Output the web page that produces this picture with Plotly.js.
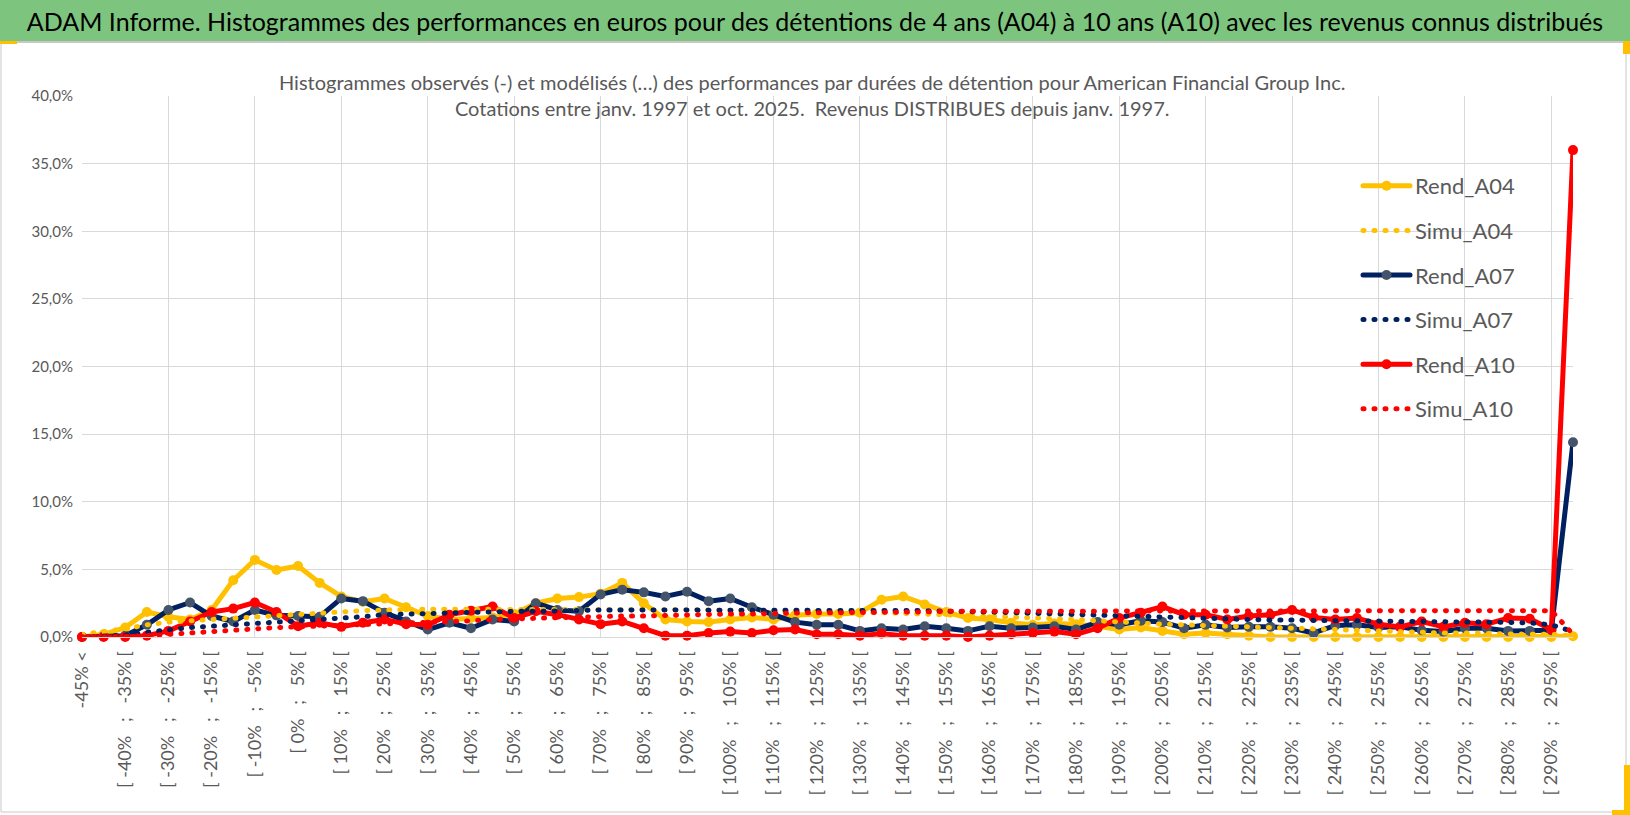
<!DOCTYPE html>
<html>
<head>
<meta charset="utf-8">
<script src="https://cdn.plot.ly/plotly-3.0.1.min.js"></script>
<style>
  html, body { margin: 0; padding: 0; background: #fff; }
  #chart { width: 1630px; height: 815px; }
  .js-line { stroke-linecap: round; stroke-linejoin: round; }
</style>
</head>
<body>
<div id="chart"></div>
<script>
  const categories = [
    "-45% <", "[ -45% ; -40% [", "[ -40% ; -35% [", "[ -35% ; -30% [", "[ -30% ; -25% [",
    "[ -25% ; -20% [", "[ -20% ; -15% [", "[ -15% ; -10% [", "[ -10% ; -5% [", "[ -5% ; 0% [",
    "[ 0% ; 5% [", "[ 5% ; 10% [", "[ 10% ; 15% [", "[ 15% ; 20% [", "[ 20% ; 25% [",
    "[ 25% ; 30% [", "[ 30% ; 35% [", "[ 35% ; 40% [", "[ 40% ; 45% [", "[ 45% ; 50% [",
    "[ 50% ; 55% [", "[ 55% ; 60% [", "[ 60% ; 65% [", "[ 65% ; 70% [", "[ 70% ; 75% [",
    "[ 75% ; 80% [", "[ 80% ; 85% [", "[ 85% ; 90% [", "[ 90% ; 95% [", "[ 95% ; 100% [",
    "[ 100% ; 105% [", "[ 105% ; 110% [", "[ 110% ; 115% [", "[ 115% ; 120% [", "[ 120% ; 125% [",
    "[ 125% ; 130% [", "[ 130% ; 135% [", "[ 135% ; 140% [", "[ 140% ; 145% [", "[ 145% ; 150% [",
    "[ 150% ; 155% [", "[ 155% ; 160% [", "[ 160% ; 165% [", "[ 165% ; 170% [", "[ 170% ; 175% [",
    "[ 175% ; 180% [", "[ 180% ; 185% [", "[ 185% ; 190% [", "[ 190% ; 195% [", "[ 195% ; 200% [",
    "[ 200% ; 205% [", "[ 205% ; 210% [", "[ 210% ; 215% [", "[ 215% ; 220% [", "[ 220% ; 225% [",
    "[ 225% ; 230% [", "[ 230% ; 235% [", "[ 235% ; 240% [", "[ 240% ; 245% [", "[ 245% ; 250% [",
    "[ 250% ; 255% [", "[ 255% ; 260% [", "[ 260% ; 265% [", "[ 265% ; 270% [", "[ 270% ; 275% [",
    "[ 275% ; 280% [", "[ 280% ; 285% [", "[ 285% ; 290% [", "[ 290% ; 295% [", "> 295%"
  ];

  // observed histograms (%)
  const rendA04 = [
    0.0, 0.2, 0.7, 1.85, 1.5, 1.3, 2.0, 4.2, 5.7, 4.95,
    5.25, 4.0, 3.0, 2.6, 2.85, 2.2, 1.55, 1.3, 1.4, 1.45,
    1.7, 2.5, 2.85, 2.95, 3.2, 4.0, 2.5, 1.3, 1.15, 1.1,
    1.3, 1.45, 1.3, 1.6, 1.7, 1.7, 1.8, 2.75, 3.0, 2.4,
    1.85, 1.4, 1.3, 1.05, 0.9, 1.0, 0.95, 0.8, 0.55, 0.7,
    0.45, 0.2, 0.3, 0.2, 0.1, 0.0, 0.0, 0.0, 0.0, 0.0,
    0.0, 0.0, 0.0, 0.0, 0.0, 0.0, 0.0, 0.0, 0.0, 0.05
  ];
  const rendA07 = [
    0.0, 0.05, 0.1, 0.9, 2.0, 2.55, 1.55, 1.15, 2.0, 1.6,
    1.55, 1.5, 2.85, 2.65, 1.8, 1.15, 0.55, 1.05, 0.65, 1.3,
    1.15, 2.5, 2.0, 1.9, 3.15, 3.5, 3.3, 3.0, 3.35, 2.65,
    2.85, 2.2, 1.65, 1.1, 0.9, 0.9, 0.45, 0.65, 0.55, 0.8,
    0.65, 0.45, 0.8, 0.65, 0.7, 0.8, 0.55, 1.1, 0.9, 1.2,
    1.1, 0.65, 0.9, 0.7, 0.75, 0.75, 0.65, 0.3, 0.85, 0.9,
    0.7, 0.75, 0.5, 0.4, 0.65, 0.65, 0.45, 0.45, 0.5, 14.4
  ];
  const rendA10 = [
    0.0, 0.0, 0.0, 0.1, 0.45, 1.15, 1.85, 2.1, 2.55, 1.85,
    0.8, 1.05, 0.75, 1.05, 1.3, 0.95, 0.9, 1.65, 1.95, 2.25,
    1.4, 1.9, 1.65, 1.3, 0.95, 1.15, 0.65, 0.1, 0.1, 0.3,
    0.4, 0.3, 0.5, 0.55, 0.2, 0.2, 0.1, 0.25, 0.1, 0.1,
    0.1, 0.0, 0.1, 0.2, 0.3, 0.4, 0.2, 0.65, 1.4, 1.8,
    2.25, 1.65, 1.65, 1.3, 1.55, 1.65, 2.0, 1.45, 1.3, 1.4,
    0.95, 0.75, 1.15, 0.75, 1.05, 0.95, 1.4, 1.35, 0.55, 36.0
  ];

  // modelled histograms (%)
  const simuA04 = [
    0.2, 0.4, 0.6, 0.9, 1.1, 1.2, 1.3, 1.4, 1.5, 1.6,
    1.7, 1.8, 1.9, 1.95, 2.0, 2.05, 2.05, 2.05, 2.05, 2.05,
    2.05, 2.05, 2.05, 2.05, 2.05, 2.05, 2.05, 2.0, 2.0, 2.0,
    1.95, 1.95, 1.9, 1.9, 1.85, 1.85, 1.8, 1.8, 1.75, 1.7,
    1.65, 1.6, 1.5, 1.45, 1.4, 1.35, 1.3, 1.2, 1.1, 1.0,
    0.95, 0.9, 0.85, 0.8, 0.7, 0.65, 0.6, 0.55, 0.5, 0.45,
    0.4, 0.4, 0.35, 0.3, 0.3, 0.25, 0.25, 0.2, 0.2, 0.1
  ];
  const simuA07 = [
    0.0, 0.05, 0.15, 0.35, 0.55, 0.7, 0.8, 0.9, 1.0, 1.1,
    1.2, 1.3, 1.35, 1.5, 1.65, 1.7, 1.75, 1.8, 1.85, 1.85,
    1.9, 1.9, 1.95, 1.95, 2.0, 2.0, 2.0, 2.0, 2.0, 2.0,
    2.0, 2.0, 2.0, 2.0, 2.0, 2.0, 2.0, 1.95, 1.95, 1.95,
    1.9, 1.9, 1.85, 1.8, 1.75, 1.7, 1.65, 1.6, 1.55, 1.5,
    1.45, 1.4, 1.35, 1.3, 1.3, 1.25, 1.25, 1.2, 1.2, 1.2,
    1.15, 1.15, 1.15, 1.1, 1.1, 1.1, 1.1, 1.05, 0.9, 0.4
  ];
  const simuA10 = [
    0.0, 0.0, 0.05, 0.1, 0.2, 0.35, 0.45, 0.55, 0.65, 0.7,
    0.75, 0.8, 0.85, 0.95, 1.0, 1.05, 1.1, 1.15, 1.2, 1.3,
    1.35, 1.4, 1.45, 1.45, 1.5, 1.55, 1.55, 1.6, 1.6, 1.65,
    1.7, 1.7, 1.75, 1.75, 1.8, 1.8, 1.8, 1.85, 1.85, 1.85,
    1.9, 1.9, 1.9, 1.9, 1.95, 1.95, 1.95, 1.95, 1.95, 1.95,
    1.95, 1.95, 1.95, 1.95, 1.95, 1.95, 1.95, 1.95, 1.95, 1.95,
    1.95, 1.95, 1.95, 1.95, 1.95, 1.95, 1.95, 1.95, 1.95, 0.2
  ];

  const W = 1630, H = 815;
  const plotL = 82, plotR = 1573, plotT = 96, plotB = 637;
  const px = (x) => (x - plotL) / (plotR - plotL);
  const py = (y) => (plotB - y) / (plotB - plotT);

  const fontFamily = "Lato, 'Open Sans', sans-serif";
  const gray = "#595959";
  const gridColor = "#d9d9d9";

  // every 2nd category is labelled, the ";" is set apart like in the workbook
  const labelVals = categories.filter((_, i) => i % 2 === 0);
  const nb = "\u00a0";
  const labelText = labelVals.map((c) => c.replace(" ; ", nb.repeat(3) + ";" + nb.repeat(3)));

  const rend = (name, y, lineColor, markerColor, group) => ({
    x: categories, y, name, legendgroup: group,
    type: "scatter", mode: "lines+markers", cliponaxis: false,
    line: { color: lineColor, width: 5 },
    marker: { color: markerColor, size: 10 },
  });
  const simu = (name, y, color, group) => ({
    x: categories, y, name, legendgroup: group, xaxis: "x2",
    type: "scatter", mode: "lines", cliponaxis: false,
    line: { color, width: 5, dash: "1px,10px" },
  });

  const traces = [
    rend("Rend_A04", rendA04, "#FFC000", "#FFC000", "g1"),
    simu("Simu_A04", simuA04, "#FFC000", "g2"),
    rend("Rend_A07", rendA07, "#002060", "#44546A", "g3"),
    simu("Simu_A07", simuA07, "#002060", "g4"),
    rend("Rend_A10", rendA10, "#FF0000", "#FF0000", "g5"),
    simu("Simu_A10", simuA10, "#FF0000", "g6"),
  ];

  const yellowMark = (x0, x1, y0, y1) => ({
    type: "rect", xref: "paper", yref: "paper", layer: "above",
    x0: px(x0), x1: px(x1), y0: py(y1), y1: py(y0),
    fillcolor: "#FFC000", line: { width: 0 },
  });

  const layout = {
    width: W, height: H,
    margin: { l: plotL, r: W - plotR, t: plotT, b: H - plotB, pad: 0 },
    paper_bgcolor: "#ffffff",
    plot_bgcolor: "#ffffff",
    separators: ", ",
    font: { family: fontFamily, color: gray },
    showlegend: true,
    title: {
      text: "ADAM Informe. Histogrammes des performances en euros pour des détentions de 4 ans (A04) à 10 ans (A10) avec les revenus connus distribués",
      font: { family: fontFamily, size: 25, color: "#000000" },
      xref: "container", yref: "container",
      x: 0.5, xanchor: "center", y: 1 - 22 / H, yanchor: "middle",
    },
    xaxis: {
      type: "category", categoryorder: "array", categoryarray: categories,
      range: [0, categories.length - 1],
      tickmode: "array", tickvals: labelVals, ticktext: labelText,
      tickangle: -90, ticks: "", showgrid: false,
      showline: true, linecolor: gridColor, linewidth: 1.3,
      tickfont: { family: fontFamily, size: 18, color: gray },
      ticklabelstandoff: 6, automargin: false, fixedrange: true,
    },
    xaxis2: {
      type: "category", categoryorder: "array", categoryarray: categories,
      overlaying: "x", side: "bottom",
      range: [0, categories.length - 1],
      tickmode: "array", tickvals: categories.filter((_, i) => i % 4 === 0),
      showticklabels: false, ticks: "",
      showgrid: true, gridcolor: gridColor, gridwidth: 1.3, fixedrange: true,
    },
    yaxis: {
      range: [0, 40], dtick: 5, tickformat: ".1f", ticksuffix: "%",
      showgrid: true, gridcolor: gridColor, gridwidth: 1.3, zeroline: false,
      ticks: "", tickfont: { family: fontFamily, size: 15, color: gray },
      ticklabelstandoff: 8, automargin: false, fixedrange: true,
    },
    legend: {
      xref: "paper", yref: "paper",
      x: px(1358), y: py(165), xanchor: "left", yanchor: "top",
      bgcolor: "rgba(0,0,0,0)", borderwidth: 0,
      traceorder: "grouped", tracegroupgap: 13, itemwidth: 47,
      font: { family: fontFamily, size: 22, color: gray },
    },
    annotations: [{
      text: "Histogrammes observés (-) et modélisés (…) des performances par durées de détention pour American Financial Group Inc.<br>Cotations entre janv. 1997 et oct. 2025.  Revenus DISTRIBUES depuis janv. 1997.",
      xref: "paper", yref: "paper", x: px(812), y: py(94.5),
      xanchor: "center", yanchor: "middle", showarrow: false,
      font: { family: fontFamily, size: 20, color: gray },
    }],
    shapes: [
      { type: "rect", xref: "paper", yref: "paper", layer: "below",
        x0: px(0), x1: px(W), y0: py(42), y1: py(0),
        fillcolor: "#7DC57E", line: { width: 0 } },
      { type: "line", xref: "paper", yref: "paper", layer: "below",
        x0: px(0), x1: px(W), y0: py(42), y1: py(42),
        line: { color: "#c8c8c8", width: 2 } },
      { type: "rect", xref: "paper", yref: "paper", layer: "below",
        x0: px(1), x1: px(1626), y0: py(812), y1: py(42),
        line: { color: "#c8c8c8", width: 1 } },
      { type: "rect", xref: "paper", yref: "paper", layer: "between",
        x0: px(1303), x1: px(1553), y0: py(433), y1: py(163),
        fillcolor: "#ffffff", line: { width: 0 } },
      yellowMark(0, 17, 41, 44),
      yellowMark(1623, 1630, 41, 54),
      yellowMark(1624, 1630, 765, 815),
      yellowMark(1612, 1630, 810, 815),
    ],
  };

  Plotly.newPlot("chart", traces, layout, { displayModeBar: false, responsive: false });
</script>
</body>
</html>
